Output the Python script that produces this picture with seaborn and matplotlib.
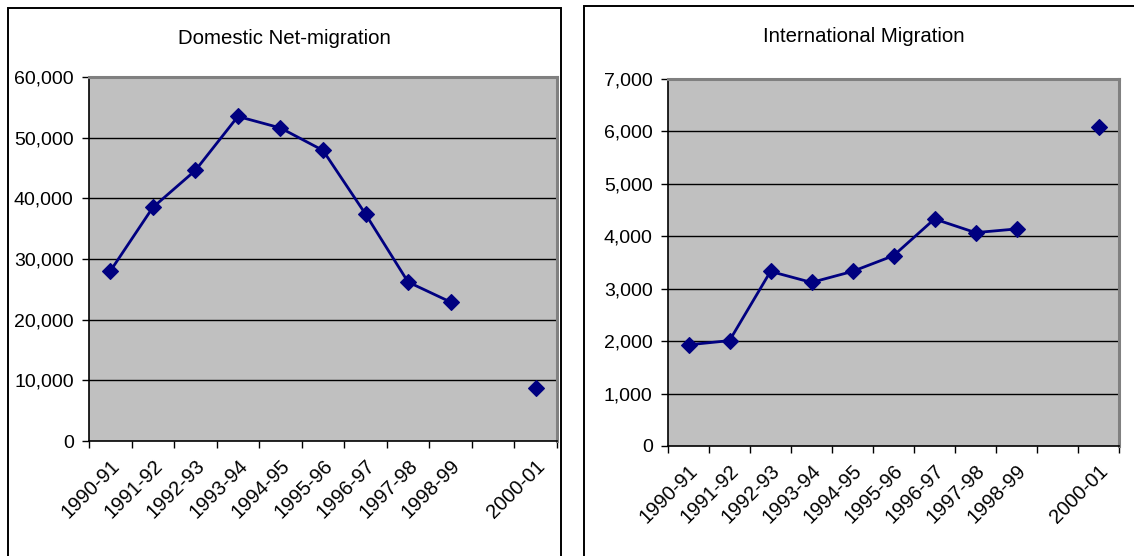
import numpy as np
import pandas as pd
import matplotlib
matplotlib.use("Agg")
import matplotlib.pyplot as plt
from matplotlib.patches import Rectangle
from matplotlib.ticker import FuncFormatter, FixedLocator
import seaborn as sns

# Migration series by fiscal year (1999-00 not reported)
periods = ["1990-91", "1991-92", "1992-93", "1993-94", "1994-95", "1995-96",
           "1996-97", "1997-98", "1998-99", "1999-00", "2000-01"]
tick_labels = ["1990-91", "1991-92", "1992-93", "1993-94", "1994-95", "1995-96",
               "1996-97", "1997-98", "1998-99", "", "2000-01"]
domestic = [28000, 38500, 44600, 53500, 51600, 47900,
            37400, 26200, 22900, np.nan, 8700]
international = [1930, 2010, 3330, 3120, 3330, 3630,
                 4330, 4070, 4140, np.nan, 6090]

domestic_title = "Domestic Net-migration"
international_title = "International Migration"
domestic_yticks = list(range(0, 60001, 10000))
international_yticks = list(range(0, 7001, 1000))

sns.set_theme(style="white")
plt.rcParams["font.family"] = ["Liberation Sans", "DejaVu Sans"]

NAVY = "#000080"
PLOT_BG = "#C0C0C0"


def to_frame(values):
    df = pd.DataFrame({"period": periods, "value": values})
    df["pos"] = np.arange(len(df))
    # contiguous runs of reported values are drawn as separate line pieces
    df["segment"] = df["value"].isna().cumsum()
    return df.dropna()


def draw_panel(ax, values, yticks):
    df = to_frame(values)
    ax.set_facecolor(PLOT_BG)
    for y in yticks[1:]:
        ax.axhline(y, color="black", lw=1.0, zorder=1)
    sns.lineplot(data=df, x="pos", y="value", units="segment", estimator=None,
                 color=NAVY, lw=2.0, marker="D", markersize=8.5,
                 markeredgecolor=NAVY, markeredgewidth=0.8, ax=ax,
                 legend=False, zorder=3)
    n = len(periods)
    ax.set_xlim(-0.5, n - 0.5)
    ax.set_ylim(yticks[0], yticks[-1])
    ax.set_xlabel("")
    ax.set_ylabel("")
    ax.grid(False)

    ax.yaxis.set_major_locator(FixedLocator(yticks))
    ax.yaxis.set_major_formatter(FuncFormatter(lambda v, p: f"{int(v):,}"))
    ax.tick_params(axis="y", which="major", direction="out", length=5,
                   width=1.0, color="black", labelsize=14, pad=6,
                   left=True, labelcolor="black")

    # tick marks at category boundaries, labels at category centres
    ax.xaxis.set_major_locator(FixedLocator(np.arange(-0.5, n, 1.0)))
    ax.xaxis.set_minor_locator(FixedLocator(np.arange(n)))
    ax.set_xticklabels([], minor=False)
    ax.set_xticklabels(tick_labels, minor=True, rotation=45, ha="right",
                       rotation_mode="anchor")
    ax.tick_params(axis="x", which="major", direction="out", length=5,
                   width=1.0, color="black", bottom=True)
    ax.tick_params(axis="x", which="minor", length=0, labelsize=14.5,
                   pad=11, labelcolor="black")

    for side in ("left", "bottom"):
        ax.spines[side].set_visible(True)
        ax.spines[side].set_color("black")
        ax.spines[side].set_linewidth(1.2)
    for side in ("top", "right"):
        ax.spines[side].set_visible(True)
        ax.spines[side].set_color("#808080")
        ax.spines[side].set_linewidth(2.2)


fig = plt.figure(figsize=(11.34, 5.56), dpi=100)
W, H = 1134, 556

# panel frames
fig.patches.append(Rectangle((8 / W, -0.1), (561 - 8) / W, 1.1 - 8 / H,
                             transform=fig.transFigure, fill=False,
                             edgecolor="black", lw=1.4))
fig.patches.append(Rectangle((584 / W, -0.1), 0.6, 1.1 - 6 / H,
                             transform=fig.transFigure, fill=False,
                             edgecolor="black", lw=1.4))

ax1 = fig.add_axes([89 / W, (H - 441) / H, (557 - 89) / W, (441 - 77) / H])
ax2 = fig.add_axes([668 / W, (H - 446) / H, (1119 - 668) / W, (446 - 79) / H])

draw_panel(ax1, domestic, domestic_yticks)
draw_panel(ax2, international, international_yticks)

fig.text(284 / W, 1 - 38 / H, domestic_title, ha="center", va="center",
         fontsize=14.7, color="black")
fig.text(864 / W, 1 - 36 / H, international_title, ha="center", va="center",
         fontsize=14.7, color="black")

fig.savefig("out.png", dpi=100, facecolor="white")
